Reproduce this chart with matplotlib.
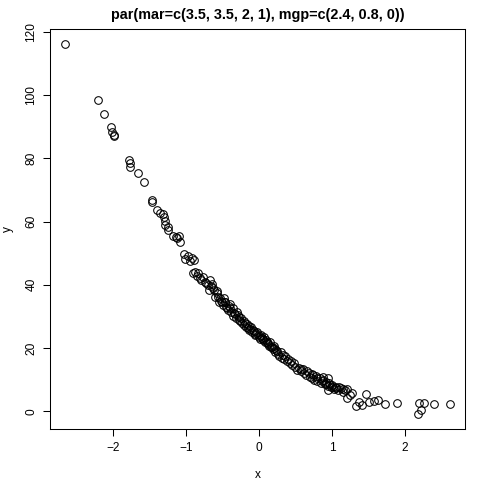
import matplotlib
matplotlib.use("Agg")
import matplotlib.pyplot as plt

x = [-2.65, -2.20, -2.12, -2.02, -2.01, -1.99, -1.98, -1.78, -1.77, -1.76,
     -1.66, -1.57, -1.47, -1.46, -1.39, -1.36, -1.31, -1.30, -1.29, -1.28,
     -1.25, -1.24, -1.18, -1.13, -1.10, -1.12, -1.08, -1.03, -1.01,
     -0.97, -0.92, -0.95, -0.89, -0.88, -0.83, -0.81, -0.77, -0.79, -0.74,
     -0.72, -0.67, -0.65, -0.63, -0.61, -0.58, -0.56, -0.54, -0.51, -0.47,
     -0.49, -0.45, -0.40, -0.36, -0.90, -0.85, -0.70, -0.68, -0.60, -0.55,
     -0.52, -0.46, -0.44, -0.42, -0.38, -0.35, -0.33, -0.31, -0.30, -0.28,
     -0.26, -0.25, -0.23, -0.21, -0.20, -0.18, -0.16, -0.15, -0.13, -0.11,
     -0.10, -0.08, -0.06, -0.05, -0.03, 0.00, 0.02, 0.03, 0.05, 0.07,
     0.08, 0.10, 0.12, 0.14, 0.15, 0.17, 0.19, 0.20, 0.22, 0.24,
     0.26, 0.28, 0.30, 0.32, 0.34, 0.36, 0.38, 0.40, 0.42, 0.45,
     0.48, 0.50, 0.52, 0.55, 0.58, 0.60, 0.62, 0.65, 0.68, 0.70,
     0.72, 0.74, 0.76, 0.78, 0.80, 0.83, 0.85, 0.88, 0.90, 0.92,
     0.94, 0.96, 0.98, 1.00, 1.03, 1.06, 1.08, 1.12, 1.15, 1.18,
     0.88, 0.94, 0.92, 0.94, 1.01, 1.10, 1.15, 1.21, 1.20, 1.24,
     1.28, 1.33, 1.41, 1.37, 1.47, 1.51, 1.58, 1.63, 1.72, 1.89,
     2.19, 2.26, 2.22, 2.18, 2.39, 2.61,
     -0.34, -0.27, -0.19, -0.12, -0.04, 0.01, 0.06, 0.11, 0.18, 0.25,
     -0.41, -0.29, -0.14, -0.07, 0.04, 0.13, 0.21, 0.33, 0.44, 0.57,
     0.66, 0.73, 0.79, 0.86, 0.97, 1.05, -0.64, -0.57, -0.48, -0.39]
y = [116.2, 98.3, 94.1, 89.9, 88.3, 87.5, 87.0, 79.4, 78.5, 77.4,
     75.2, 72.4, 66.8, 66.2, 63.6, 62.8, 62.3, 61.3, 60.2, 59.0,
     58.2, 57.3, 55.3, 55.0, 55.3, 54.8, 53.6, 49.8, 48.3,
     49.2, 48.4, 47.4, 47.9, 44.2, 43.7, 42.1, 42.6, 41.6, 41.0,
     40.5, 41.6, 39.5, 38.9, 38.4, 37.3, 36.3, 35.7, 34.7, 34.7,
     33.7, 33.1, 32.6, 32.6, 43.8, 42.8, 39.8, 38.3, 36.2, 34.6,
     35.0, 34.5, 32.8, 32.0, 31.5, 30.2, 30.8, 29.6, 31.5, 29.0,
     28.4, 29.5, 27.8, 28.6, 27.2, 26.8, 27.6, 26.2, 25.6, 26.6,
     25.0, 25.8, 24.6, 24.0, 25.2, 23.6, 22.8, 24.2, 22.4, 23.4,
     21.8, 22.6, 21.2, 20.6, 21.8, 20.2, 19.6, 20.8, 18.8, 19.4,
     18.2, 17.6, 18.8, 17.0, 16.4, 17.4, 15.8, 16.6, 15.2, 14.6,
     15.4, 14.0, 13.2, 13.8, 12.6, 13.4, 12.0, 11.4, 12.2, 11.0,
     10.4, 11.6, 10.0, 11.2, 9.6, 10.4, 9.0, 9.8, 8.6, 9.4,
     8.0, 8.8, 7.6, 8.2, 7.2, 7.8, 6.8, 7.4, 6.2, 6.8,
     10.8, 10.4, 8.7, 6.6, 7.7, 7.7, 6.9, 6.9, 4.1, 5.1,
     5.7, 1.6, 1.9, 2.9, 5.4, 2.9, 3.2, 3.5, 2.4, 2.6,
     2.6, 2.6, 0.3, -1.0, 2.3, 2.3,
     31.0, 29.8, 27.9, 26.0, 24.8, 23.9, 23.0, 21.9, 20.4, 19.1,
     33.4, 30.4, 27.0, 25.4, 23.1, 21.6, 19.9, 17.8, 16.0, 13.5,
     12.6, 11.9, 10.5, 9.5, 8.4, 7.3, 40.2, 38.0, 35.8, 33.9]

plt.rcParams['font.family'] = ['Liberation Sans', 'DejaVu Sans']
fig = plt.figure(figsize=(4.8, 4.8), dpi=100)
ax = fig.add_axes([50/480, 1-429.3/480, 415/480, 400.3/480])
ax.plot(x, y, linestyle='none', marker='o', markersize=5.5,
        markerfacecolor='none', markeredgecolor='black', markeredgewidth=0.75)
ax.margins(0.04)
ax.set_xticks([-2, -1, 0, 1, 2])
ax.set_yticks([0, 20, 40, 60, 80, 100, 120])
ax.tick_params(direction='out', length=5, width=0.75, labelsize=8.6, pad=4)
for lab in ax.get_yticklabels():
    lab.set_rotation(90)
    lab.set_va('center')
for s in ax.spines.values():
    s.set_linewidth(0.75)
ax.set_xlabel('x', fontsize=8.6, labelpad=11)
ax.set_ylabel('y', fontsize=8.6, labelpad=8)
ax.set_title('par(mar=c(3.5, 3.5, 2, 1), mgp=c(2.4, 0.8, 0))',
             fontsize=10.4, fontweight='bold', pad=7)
fig.savefig('out.png', dpi=100)
